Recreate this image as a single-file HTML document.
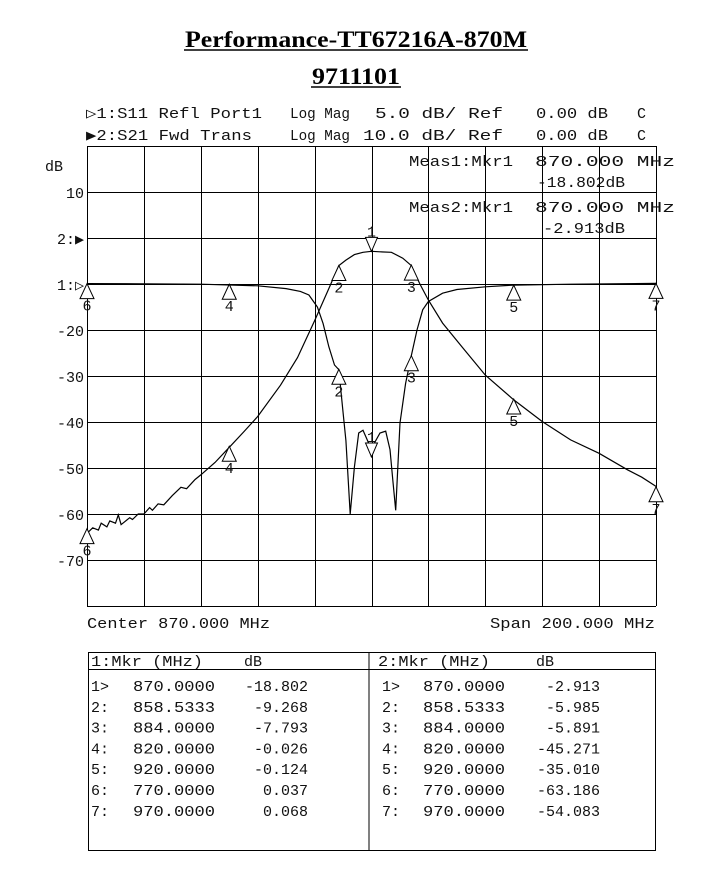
<!DOCTYPE html>
<html><head><meta charset="utf-8"><style>
html,body{margin:0;padding:0;background:#fff}
svg{display:block}
.m{font-family:"Liberation Mono","DejaVu Sans Mono",monospace;font-size:15px;fill:#111}
.t{font-family:"Liberation Serif",serif;font-weight:bold;font-size:23px;fill:#000}
</style></head><body>
<svg id="c" width="703" height="889" viewBox="0 0 703 889" xmlns="http://www.w3.org/2000/svg">
<text class="t" x="185" y="47" textLength="342" lengthAdjust="spacingAndGlyphs">Performance-TT67216A-870M</text>
<line x1="184" y1="50" x2="528" y2="50" stroke="#000" stroke-width="1.5"/>
<text class="t" x="312" y="84" textLength="88" lengthAdjust="spacingAndGlyphs">9711101</text>
<line x1="311" y1="87" x2="401" y2="87" stroke="#000" stroke-width="1.5"/>
<g>
<text class="m" x="86" y="118" textLength="176" lengthAdjust="spacingAndGlyphs">▷1:S11 Refl Port1</text>
<text class="m" x="290" y="118" textLength="60" lengthAdjust="spacingAndGlyphs">Log Mag</text>
<text class="m" x="375" y="118" textLength="128" lengthAdjust="spacingAndGlyphs">5.0 dB/ Ref</text>
<text class="m" x="536" y="118" textLength="72" lengthAdjust="spacingAndGlyphs">0.00 dB</text>
<text class="m" x="637" y="118">C</text>
<text class="m" x="86" y="140" textLength="166" lengthAdjust="spacingAndGlyphs">▶2:S21 Fwd Trans</text>
<text class="m" x="290" y="140" textLength="60" lengthAdjust="spacingAndGlyphs">Log Mag</text>
<text class="m" x="363" y="140" textLength="140" lengthAdjust="spacingAndGlyphs">10.0 dB/ Ref</text>
<text class="m" x="536" y="140" textLength="72" lengthAdjust="spacingAndGlyphs">0.00 dB</text>
<text class="m" x="637" y="140">C</text>
</g>
<text class="m" x="45" y="171">dB</text>
<g id="grid"></g>
<g id="ylabels"></g>
<g id="traces"></g>
<g>
<text class="m" x="409" y="166" textLength="104" lengthAdjust="spacingAndGlyphs">Meas1:Mkr1</text>
<text class="m" x="535" y="166" textLength="140" lengthAdjust="spacingAndGlyphs">870.000 MHz</text>
<text class="m" x="537" y="187" textLength="88" lengthAdjust="spacingAndGlyphs">-18.802dB</text>
<text class="m" x="409" y="212" textLength="104" lengthAdjust="spacingAndGlyphs">Meas2:Mkr1</text>
<text class="m" x="535" y="212" textLength="140" lengthAdjust="spacingAndGlyphs">870.000 MHz</text>
<text class="m" x="543" y="233" textLength="82" lengthAdjust="spacingAndGlyphs">-2.913dB</text>
</g>
<text class="m" x="87" y="628" textLength="183" lengthAdjust="spacingAndGlyphs">Center 870.000 MHz</text>
<text class="m" x="490" y="628" textLength="165" lengthAdjust="spacingAndGlyphs">Span 200.000 MHz</text>
<g id="table">
<rect x="88.5" y="652.5" width="567" height="198" fill="none" stroke="#000"/>
<line x1="369" y1="652" x2="369" y2="851" stroke="#000"/>
<line x1="88" y1="669.5" x2="656" y2="669.5" stroke="#000"/>
<text class="m" x="91" y="666" textLength="112" lengthAdjust="spacingAndGlyphs">1:Mkr (MHz)</text>
<text class="m" x="244" y="666">dB</text>
<text class="m" x="378" y="666" textLength="112" lengthAdjust="spacingAndGlyphs">2:Mkr (MHz)</text>
<text class="m" x="536" y="666">dB</text>
</g>
</svg>
<script>
const markerLabels=["1>","2:","3:","4:","5:","6:","7:"];
const markerFreqs=[870.0,858.5333,884.0,820.0,920.0,770.0,970.0];
const s11MarkerValues=[-18.802,-9.268,-7.793,-0.026,-0.124,0.037,0.068];
const s21MarkerValues=[-2.913,-5.985,-5.891,-45.271,-35.010,-63.186,-54.083];
const s21Freqs=[770,772,774,775,777,778,780,781,782,783,785,786,788,790,792,793,795,797,800,803,805,808,810,815,820,825,830,838,844,850,855,858.5,861,864,867,870,873,877,881,884,887,890,895,902,910,920,930,940,950,960,965,970];
const s21Values=[-64.2,-63,-63.5,-62,-62.8,-61.5,-62,-60.2,-62.3,-61.8,-60.8,-61.2,-60,-60,-58.6,-59.2,-57.8,-58,-56,-54.2,-54.5,-52.5,-51.5,-48.8,-45.5,-42.2,-38.8,-32,-26,-18,-11,-6,-4.8,-3.6,-3.1,-2.9,-3,-3.1,-4.4,-6,-10,-13.5,-18.5,-23.8,-29.8,-35.2,-39.9,-43.9,-46.8,-50.4,-52,-54];
const s11Freqs=[770,790,810,830,840,845,848,851,853,855,857,858.5,860,861,862.5,864,865.5,867,869,870,871,873,875,876.5,877.5,878.5,880,882,884,886,888,890,895,900,910,920,940,970];
const s11Values=[0.04,0.02,-0.02,-0.2,-0.5,-0.8,-1.2,-2.5,-4.3,-6.8,-8.8,-9.3,-14,-17,-25,-19.9,-16.2,-15.9,-17.3,-18.8,-17.3,-16.2,-16,-18,-21.3,-24.6,-15.1,-10.8,-7.8,-5,-2.8,-1.9,-1.0,-0.6,-0.3,-0.12,-0.02,0.07];
const yTickLabels=["10","2:▶","1:▷","-20","-30","-40","-50","-60","-70"];

const NS="http://www.w3.org/2000/svg";
const X0=87,X1=656,Y0=146,Y1=606,DIV=46;
const fx=f=>X0+(f-770)/200*(X1-X0);
const y21=d=>238-d*DIV/10;
const y11=d=>284-d*DIV/5;
function mk(tag,parent){const e=document.createElementNS(NS,tag);parent.appendChild(e);return e;}
const grid=document.getElementById('grid');
for(let i=0;i<=10;i++){
 const v=mk('line',grid);
 
 
 const x=Math.round(X0+i*(X1-X0)/10)+0.5;
 v.setAttribute('x1',x);v.setAttribute('x2',x);v.setAttribute('y1',Y0);v.setAttribute('y2',Y1);v.setAttribute('stroke','#000');
 const h=mk('line',grid);
 
 
 const y=Y0+i*DIV+0.5;
 h.setAttribute('x1',X0);h.setAttribute('x2',X1);h.setAttribute('y1',y);h.setAttribute('y2',y);h.setAttribute('stroke','#000');
}
const yl=document.getElementById('ylabels');
yTickLabels.forEach((t,i)=>{
 const e=mk('text',yl);
 
 
 e.setAttribute('class','m');e.setAttribute('x',84);e.setAttribute('y',Y0+(i+1)*DIV+6);e.setAttribute('text-anchor','end');
 e.textContent=t;
});
const tr=document.getElementById('traces');
function path(fs,vs,yf,name){
 const p=mk('path',tr);
 
 
 p.setAttribute('d',fs.map((f,i)=>(i?'L':'M')+fx(f).toFixed(1)+' '+yf(vs[i]).toFixed(1)).join(''));
 p.setAttribute('fill','none');p.setAttribute('stroke','#000');p.setAttribute('stroke-width','1.2');
}
path(s11Freqs,s11Values,y11,'s11-trace');
path(s21Freqs,s21Values,y21,'s21-trace');
function markers(vals,yf,name){
 markerFreqs.forEach((f,i)=>{
  const x=fx(f),y=yf(vals[i]);
  const g=mk('g',tr);
  
  
  const p=mk('path',g);p.setAttribute('fill','#fff');p.setAttribute('stroke','#000');
  const t=mk('text',g);t.setAttribute('class','m');t.setAttribute('text-anchor','middle');t.setAttribute('x',x);
  t.textContent=String(i+1);
  if(i===0){p.setAttribute('d',`M${x} ${y}L${x-6} ${y-14}L${x+6} ${y-14}Z`);t.setAttribute('y',y-15);}
  else{p.setAttribute('d',`M${x} ${y}L${x-7} ${y+15}L${x+7} ${y+15}Z`);t.setAttribute('y',y+27);}
 });
}
markers(s11MarkerValues,y11,'s11-marker');
markers(s21MarkerValues,y21,'s21-marker');
const tb=document.getElementById('table');
function row(xs,lab,f,v,y,name){
 const a=mk('text',tb);
 a.setAttribute('class','m');a.setAttribute('x',xs[0]);a.setAttribute('y',y);a.textContent=lab;
 const b=mk('text',tb);
 b.setAttribute('class','m');b.setAttribute('x',xs[1]);b.setAttribute('y',y);b.setAttribute('textLength',82);b.setAttribute('lengthAdjust','spacingAndGlyphs');b.textContent=f.toFixed(4);
 const c=mk('text',tb);
 c.setAttribute('class','m');c.setAttribute('x',xs[2]);c.setAttribute('y',y);c.setAttribute('text-anchor','end');c.textContent=v.toFixed(3);
}
markerLabels.forEach((l,i)=>{
 const y=691+i*20.8;
 row([91,133,308],l,markerFreqs[i],s11MarkerValues[i],y,'table1-row');
 row([382,423,600],l,markerFreqs[i],s21MarkerValues[i],y,'table2-row');
});
</script>
</body></html>
